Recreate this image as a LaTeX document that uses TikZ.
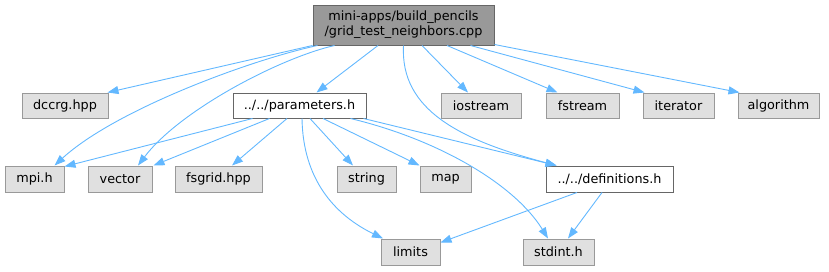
\documentclass[tikz,border=0pt]{standalone}
\usepackage{fontspec}
\setmainfont{DejaVu Sans}
\usetikzlibrary{arrows.meta}
\definecolor{edgeblue}{HTML}{63B8FF}
\definecolor{gfill}{HTML}{E0E0E0}
\definecolor{gdraw}{HTML}{999999}
\definecolor{mfill}{HTML}{999999}
\definecolor{mdraw}{HTML}{666666}
\tikzset{
  box/.style={draw=gdraw, fill=gfill, line width=1pt, inner sep=0pt, minimum height=25pt, font=\fontsize{12.8}{15}\selectfont},
  wbox/.style={box, draw=mdraw, fill=white},
  mbox/.style={box, draw=mdraw, fill=mfill, align=center},
  edge/.style={draw=edgeblue, line width=0.9pt, -{Triangle[length=11pt,width=8pt]}},
}
\begin{document}
\begin{tikzpicture}[x=1pt,y=-1pt]
\useasboundingbox (0,0) rectangle (829,271);
\node[mbox, minimum width=181pt, minimum height=40pt] (main) at (403.5,25) {mini-apps/build\_pencils\\/grid\_test\_neighbors.cpp};
\node[box, minimum width=86pt] (dccrg) at (65,105.5) {dccrg.hpp};
\node[wbox, minimum width=133pt] (params) at (299.5,105.5) {../../parameters.h};
\node[box, minimum width=80pt] (iostream) at (481,105.5) {iostream};
\node[box, minimum width=73pt] (fstream) at (582.5,105.5) {fstream};
\node[box, minimum width=71pt] (iterator) at (678.5,105.5) {iterator};
\node[box, minimum width=81pt] (algorithm) at (778.5,105.5) {algorithm};
\node[box, minimum width=59pt, minimum height=26pt] (mpi) at (34.5,179) {mpi.h};
\node[box, minimum width=64pt, minimum height=26pt] (vector) at (120,179) {vector};
\node[box, minimum width=87pt, minimum height=26pt] (fsgrid) at (218.5,179) {fsgrid.hpp};
\node[box, minimum width=59pt, minimum height=26pt] (string) at (366.5,179) {string};
\node[box, minimum width=51pt, minimum height=26pt] (map) at (445.5,179) {map};
\node[wbox, minimum width=127pt, minimum height=26pt] (defs) at (609.5,179) {../../definitions.h};
\node[box, minimum width=59pt, minimum height=26pt] (limits) at (410.5,252) {limits};
\node[box, minimum width=71pt, minimum height=26pt] (stdint) at (558.5,252) {stdint.h};
% edges from main
\draw[edge] (main.south west) -- ([xshift=-1pt]dccrg.north east);
\draw[edge] ([xshift=5pt]main.south west) .. controls (250,60) and (115,110) .. ([xshift=20pt]mpi.north);
\draw[edge] ([xshift=22pt]main.south west) .. controls (280,58) and (180,110) .. ([xshift=18pt]vector.north);
\draw[edge] ([xshift=-25.5pt]main.south) -- ([xshift=17pt]params.north);
\draw[edge] (main.south) .. controls (400,110) and (460,140) .. ([xshift=11pt]defs.north west);
\draw[edge] ([xshift=18.5pt]main.south) -- ([xshift=-13pt]iostream.north);
\draw[edge] ([xshift=43.5pt]main.south) -- ([xshift=-25pt]fstream.north);
\draw[edge] ([xshift=-24pt]main.south east) -- ([xshift=2pt]iterator.north west);
\draw[edge] ([yshift=1pt]main.south east) -- ([xshift=2pt]algorithm.north west);
% edges from parameters
\draw[edge] ([xshift=20pt]params.south west) -- ([yshift=-1pt]mpi.north east);
\draw[edge] ([xshift=37pt]params.south west) -- ([xshift=1pt]vector.north east);
\draw[edge] ([xshift=-12.5pt]params.south) -- ([xshift=13.5pt]fsgrid.north);
\draw[edge] ([xshift=10.5pt]params.south) -- ([xshift=-13.5pt]string.north);
\draw[edge] ([xshift=23.5pt]params.south) -- (map.north west);
\draw[edge] ([xshift=2.5pt]params.south) .. controls (303,180) and (335,215) .. ([xshift=-27.5pt]limits.north);
\draw[edge] ([xshift=-3pt]params.south east) -- ([xshift=11pt]defs.north west);
\draw[edge] ([xshift=-16pt]params.south east) .. controls (440,140) and (515,185) .. ([xshift=-10.5pt]stdint.north);
% edges from definitions
\draw[edge] ([xshift=-32.5pt]defs.south) -- ([yshift=-4pt]limits.north east);
\draw[edge] ([xshift=-7.5pt]defs.south) -- ([xshift=9.5pt]stdint.north);
\end{tikzpicture}
\end{document}
